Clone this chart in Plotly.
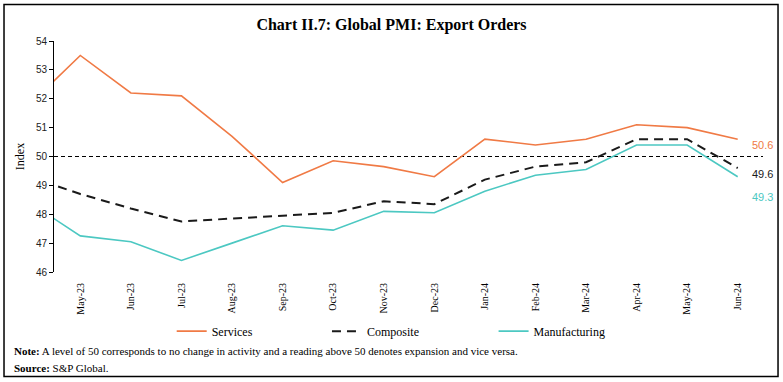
import plotly.graph_objects as go

months = ["Apr-23", "May-23", "Jun-23", "Jul-23", "Aug-23", "Sep-23", "Oct-23", "Nov-23",
          "Dec-23", "Jan-24", "Feb-24", "Mar-24", "Apr-24", "May-24", "Jun-24"]
services = [51.8, 53.5, 52.2, 52.1, 50.7, 49.1, 49.85, 49.65, 49.3, 50.6, 50.4, 50.6, 51.1, 51.0, 50.6]
composite = [49.3, 48.7, 48.2, 47.75, 47.85, 47.95, 48.05, 48.45, 48.35, 49.2, 49.65, 49.8, 50.6, 50.6, 49.6]
manufacturing = [48.4, 47.25, 47.05, 46.4, 47.0, 47.6, 47.45, 48.1, 48.05, 48.8, 49.35, 49.55, 50.4, 50.4, 49.3]
y_ticks = [46, 47, 48, 49, 50, 51, 52, 53, 54]

ORANGE = "#F07A45"
TEAL = "#4CC8C2"
SERIF = "Liberation Serif"
SANS = "Liberation Sans"

fig = go.Figure()
fig.add_trace(go.Scatter(x=months, y=services, name="Services", mode="lines",
                         line=dict(color=ORANGE, width=1.6), legend="legend"))
fig.add_trace(go.Scatter(x=months, y=composite, name="Composite", mode="lines",
                         line=dict(color="#1a1a1a", width=2, dash="9px,6px"), legend="legend2"))
fig.add_trace(go.Scatter(x=months, y=manufacturing, name="Manufacturing", mode="lines",
                         line=dict(color=TEAL, width=1.6), legend="legend3"))

# reference line at 50
fig.add_shape(type="line", xref="paper", x0=0, x1=1, yref="y", y0=50, y1=50,
              line=dict(color="black", width=1, dash="4px,3px"), layer="below")

# outer frame
fig.add_shape(type="rect", xref="paper", yref="paper", x0=-0.0705, x1=1.0212,
              y0=-0.452, y1=1.158, line=dict(color="black", width=1.5))

# end labels
for vals, col, ys in [(services, ORANGE, -6), (composite, "#1a1a1a", -6), (manufacturing, TEAL, -20)]:
    fig.add_annotation(x=months[-1], y=vals[-1], text=f"{vals[-1]:.1f}", showarrow=False,
                       xanchor="left", yanchor="middle", xshift=12, yshift=ys,
                       font=dict(family=SANS, size=11, color=col))

fig.add_annotation(xref="paper", yref="paper", x=-0.0592, y=-0.344, xanchor="left", yanchor="middle",
                   text="<b>Note:</b> A level of 50 corresponds to no change in activity and a reading above 50 denotes expansion and vice versa.",
                   showarrow=False, font=dict(family=SERIF, size=11, color="black"))
fig.add_annotation(xref="paper", yref="paper", x=-0.0592, y=-0.4175, xanchor="left", yanchor="middle",
                   text="<b>Source:</b> S&P Global.",
                   showarrow=False, font=dict(family=SERIF, size=11, color="black"))

leg_common = dict(orientation="h", xanchor="left", y=-0.256, yanchor="middle",
                  font=dict(family=SERIF, size=12, color="black"), itemwidth=30,
                  bgcolor="rgba(0,0,0,0)")

fig.update_layout(
    width=783, height=382,
    margin=dict(l=54, r=20, t=41, b=110),
    paper_bgcolor="white", plot_bgcolor="white",
    title=dict(text="<b>Chart II.7: Global PMI: Export Orders</b>", x=0.5, xanchor="center",
               y=1 - 24 / 382, yanchor="middle", yref="container",
               font=dict(family=SERIF, size=16, color="black")),
    showlegend=True,
    legend=dict(x=0.166, **leg_common),
    legend2=dict(x=0.385, **leg_common),
    legend3=dict(x=0.620, **leg_common),
    xaxis=dict(type="category", range=[0.48, 14.5], showgrid=False, zeroline=False, showline=False,
               tickangle=-90, ticks="", ticklabelstandoff=8,
               tickfont=dict(family=SERIF, size=10, color="black")),
    yaxis=dict(range=[46, 54], tickvals=y_ticks, showgrid=False, zeroline=False,
               showline=True, linecolor="black", linewidth=1, ticks="outside", ticklen=4,
               tickcolor="black", tickfont=dict(family=SANS, size=10, color="#222"),
               title=dict(text="Index", font=dict(family=SERIF, size=12, color="black"), standoff=8)),
)

fig.write_html("out.html", config={"displayModeBar": False},
               post_script="document.body.style.margin='0';document.body.style.padding='0';document.body.style.overflow='hidden';")
